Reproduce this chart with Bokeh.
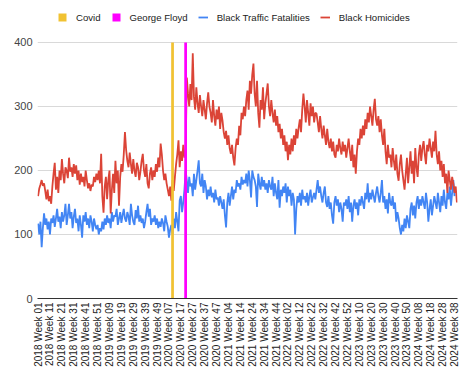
from bokeh.plotting import figure
from bokeh.models import FixedTicker, Legend, LegendItem
from bokeh.embed import file_html
from bokeh.resources import INLINE
import math

# Weekly counts, 2018 Week 01 .. 2024 Week 40
homicides_2018 = [160, 172, 178, 185, 176, 180, 168, 155, 170, 152, 160, 148,
                  175, 195, 212, 170, 190, 165, 200, 185, 218, 195, 180, 205, 200, 188,
                  220, 198, 205, 190, 210, 195, 208, 185, 200, 178, 195, 182, 190, 175,
                  200, 185, 172, 180, 168, 178, 175, 190, 182, 195, 185, 200]
homicides_2019 = [180, 226, 160, 134,
                  175, 190, 155, 185, 200, 133, 170, 195, 165, 215, 180, 200,
                  145, 190, 210, 198, 225, 260, 232, 215, 205, 228, 210, 195,
                  218, 200, 190, 212, 205, 185, 198, 215, 226, 200, 190, 210,
                  180, 172, 195, 205, 185, 200, 190, 210, 198, 220, 205, 242]
homicides_2020 = [225, 200, 185, 195, 180, 170, 160, 175, 153, 185, 168, 190,
                  210, 225, 247, 205, 230, 215, 240, 220, 230,
                  345, 320, 300, 335, 310, 383, 315, 295, 330, 305, 290, 318,
                  300, 285, 310, 295, 280, 305, 322, 300, 290, 275, 310, 285,
                  270, 295, 280, 300, 265, 290, 278, 260]
homicides_2021 = [250, 262, 240, 255, 235, 226, 240, 220, 208, 235, 250, 240,
                  270, 255, 290, 280, 300, 285, 310, 325, 295, 340, 320, 350,
                  367, 320, 300, 340, 290, 267, 310, 295, 330, 280, 305, 320,
                  336, 300, 285, 310, 290, 275, 295, 270, 285, 260, 273, 250, 265, 240, 255, 230]
homicides_2022 = [245, 216, 240, 225, 250, 230, 255, 240, 265, 250, 267, 280,
                  260, 295, 320, 300, 275, 310, 290, 270, 305, 285, 300, 275, 290, 289,
                  275, 260, 285, 265, 250, 270, 255, 240, 265, 245, 235, 250, 230, 245,
                  225, 220, 240, 230, 250, 235, 225, 245, 230, 240, 220, 235]
homicides_2023 = [250, 230, 215, 240, 205, 225, 195, 230, 250, 240, 265, 250,
                  270, 255, 280, 265, 290, 275, 300, 285, 270, 295, 312, 280,
                  270, 285, 260, 280, 255, 240, 265, 230, 210, 240, 220, 225,
                  205, 235, 215, 200, 225, 195, 184, 210, 225, 200, 185, 170, 195, 220, 180, 205]
homicides_2024 = [230, 195, 215, 180, 235, 205, 190, 225, 240, 215, 235, 246,
                  225, 210, 240, 230, 250, 235, 220, 245, 230, 262, 225, 210,
                  230, 200, 215, 190, 210, 180, 195, 165, 200, 185, 170, 190, 180, 165, 175, 150]

traffic_2018 = [117, 100, 120, 80, 110, 133, 115, 125, 108, 120, 100, 125,
                118, 130, 112, 125, 140, 120, 128, 110, 135, 120, 130, 148,
                115, 130, 148, 125, 135, 110, 128, 140, 118, 125, 105, 130, 115, 95,
                130, 120, 135, 115, 125, 110, 130, 120, 105, 125, 115, 108]
traffic_2019 = [115, 100, 110, 105, 120, 108, 125, 115, 130, 118, 125, 110,
                135, 120, 130, 128, 140, 115, 125, 135, 118, 130, 140, 125,
                120, 135, 128, 115, 148, 130, 120, 115, 138, 125, 145, 120,
                130, 118, 125, 110, 120, 135, 148, 128, 140, 115, 125, 120,
                130, 115, 125, 110]
traffic_2020 = [120, 112, 125, 118, 105, 130, 120, 112, 95, 108, 115, 100,
                125, 110, 135, 120, 105, 153, 160, 135, 150,
                170, 200, 185, 165, 190, 175, 180, 160, 195, 170, 185, 200,
                216, 180, 175, 195, 165, 185, 175, 155, 170, 160, 175, 158,
                165, 150, 170, 155, 158, 145, 160, 150]
traffic_2021 = [140, 155, 130, 111, 150, 165, 145, 160, 175, 155, 170, 165,
                185, 175, 180, 170, 190, 178, 185, 180, 195, 175, 200, 185,
                158, 200, 190, 185, 175, 143, 195, 180, 170, 190, 175, 185,
                170, 180, 165, 185, 175, 170, 190, 160, 180, 165, 155, 185, 142, 170, 160, 175]
traffic_2022 = [165, 180, 150, 175, 160, 170, 145, 165, 155, 100, 140, 160,
                150, 165, 145, 170, 155, 160, 150, 165, 145, 160, 170, 150, 158, 165,
                155, 170, 185, 165, 175, 160, 150, 165, 175, 150, 143, 160, 140, 150,
                130, 117, 150, 160, 145, 155, 135, 150, 140, 120, 150, 145]
traffic_2023 = [155, 140, 160, 135, 150, 120, 145, 155, 140, 150, 130, 155,
                145, 160, 150, 140, 165, 155, 180, 150, 165, 155, 170, 160,
                150, 165, 175, 160, 150, 165, 185, 150, 160, 140, 155, 133,
                165, 150, 145, 160, 140, 150, 120, 135, 125, 110, 100, 115, 105, 125, 110, 130]
traffic_2024 = [120, 110, 140, 150, 130, 145, 125, 150, 160, 140, 155, 145,
                160, 150, 140, 165, 150, 120, 140, 155, 130, 145, 160, 150,
                140, 165, 150, 135, 160, 145, 170, 150, 140, 165, 155, 175, 145, 165, 185, 160]

tick_labels = ["2018 Week 01", "2018 Week 11", "2018 Week 21", "2018 Week 31", "2018 Week 41", "2018 Week 51",
               "2019 Week 09", "2019 Week 19", "2019 Week 29", "2019 Week 39", "2019 Week 49",
               "2020 Week 07", "2020 Week 17", "2020 Week 27", "2020 Week 37", "2020 Week 47",
               "2021 Week 04", "2021 Week 14", "2021 Week 24", "2021 Week 34", "2021 Week 44",
               "2022 Week 02", "2022 Week 12", "2022 Week 22", "2022 Week 32", "2022 Week 42", "2022 Week 52",
               "2023 Week 10", "2023 Week 20", "2023 Week 30", "2023 Week 40", "2023 Week 50",
               "2024 Week 08", "2024 Week 18", "2024 Week 28", "2024 Week 38"]

event_week_index = [113, 124]      # Covid, George Floyd
event_height = [400, 400]
event_names = ["Covid", "George Floyd"]
event_colors = ["#f1c232", "#ff00ff"]

homicides = (homicides_2018 + homicides_2019 + homicides_2020 + homicides_2021 +
             homicides_2022 + homicides_2023 + homicides_2024)
traffic = (traffic_2018 + traffic_2019 + traffic_2020 + traffic_2021 +
           traffic_2022 + traffic_2023 + traffic_2024)
n = len(homicides)
xs = list(range(n))

FONT = "Liberation Sans"

# frame spans the full top so the legend can sit inside it, above the 400 gridline
p = figure(width=466, height=373, output_backend="svg", toolbar_location=None,
           x_range=(-0.5, n - 0.5), y_range=(0, 465.6),
           min_border_left=37, min_border_right=9, min_border_top=0, min_border_bottom=75,
           background_fill_color="white", border_fill_color="white")
p.outline_line_color = None

r_traffic = p.line(xs, traffic, line_color="#4285f4", line_width=1.8)
r_hom = p.line(xs, homicides, line_color="#db4437", line_width=1.8)

r_cov = p.vbar(x=[event_week_index[0]], top=[event_height[0]], width=2.3,
               fill_color=event_colors[0], line_color=None)
r_gf = p.vbar(x=[event_week_index[1]], top=[event_height[1]], width=2.3,
              fill_color=event_colors[1], line_color=None)

# axes
p.xaxis.ticker = FixedTicker(ticks=list(range(0, n, 10)))
p.xaxis.major_label_overrides = {i * 10: lab for i, lab in enumerate(tick_labels)}
p.xaxis.major_label_orientation = math.pi / 2
p.xaxis.major_label_text_font = FONT
p.xaxis.major_label_text_font_size = "10px"
p.xaxis.major_label_text_color = "#222222"
p.xaxis.major_tick_line_color = None
p.xaxis.minor_tick_line_color = None
p.xaxis.major_tick_out = 0
p.xaxis.major_tick_in = 0
p.xaxis.minor_tick_out = 0
p.xaxis.axis_line_color = "#333333"
p.xaxis.axis_line_width = 1.2
p.xaxis.major_label_standoff = 4

p.yaxis.ticker = FixedTicker(ticks=[0, 100, 200, 300, 400])
p.yaxis.major_label_text_font = FONT
p.yaxis.major_label_text_font_size = "11px"
p.yaxis.major_label_text_color = "#444444"
p.yaxis.major_tick_line_color = None
p.yaxis.minor_tick_line_color = None
p.yaxis.major_tick_out = 0
p.yaxis.major_tick_in = 0
p.yaxis.minor_tick_out = 0
p.yaxis.axis_line_color = None
p.yaxis.major_label_standoff = 5

p.xgrid.grid_line_color = None
p.ygrid.grid_line_color = "#d9d9d9"
p.ygrid.grid_line_width = 1

legend = Legend(items=[
    LegendItem(label=event_names[0], renderers=[r_cov]),
    LegendItem(label=event_names[1], renderers=[r_gf]),
    LegendItem(label="Black Traffic Fatalities", renderers=[r_traffic]),
    LegendItem(label="Black Homicides", renderers=[r_hom]),
], orientation="horizontal", location=(20, 275))
legend.label_text_font = FONT
legend.label_text_font_size = "9.6px"
legend.label_text_color = "#222222"
legend.border_line_color = None
legend.background_fill_alpha = 0
legend.glyph_width = 10
legend.glyph_height = 10
legend.label_height = 12
legend.label_standoff = 9
legend.spacing = 10
legend.padding = 0
legend.margin = 0
p.add_layout(legend, "center")

open("out.html", "w").write(file_html(p, INLINE))
